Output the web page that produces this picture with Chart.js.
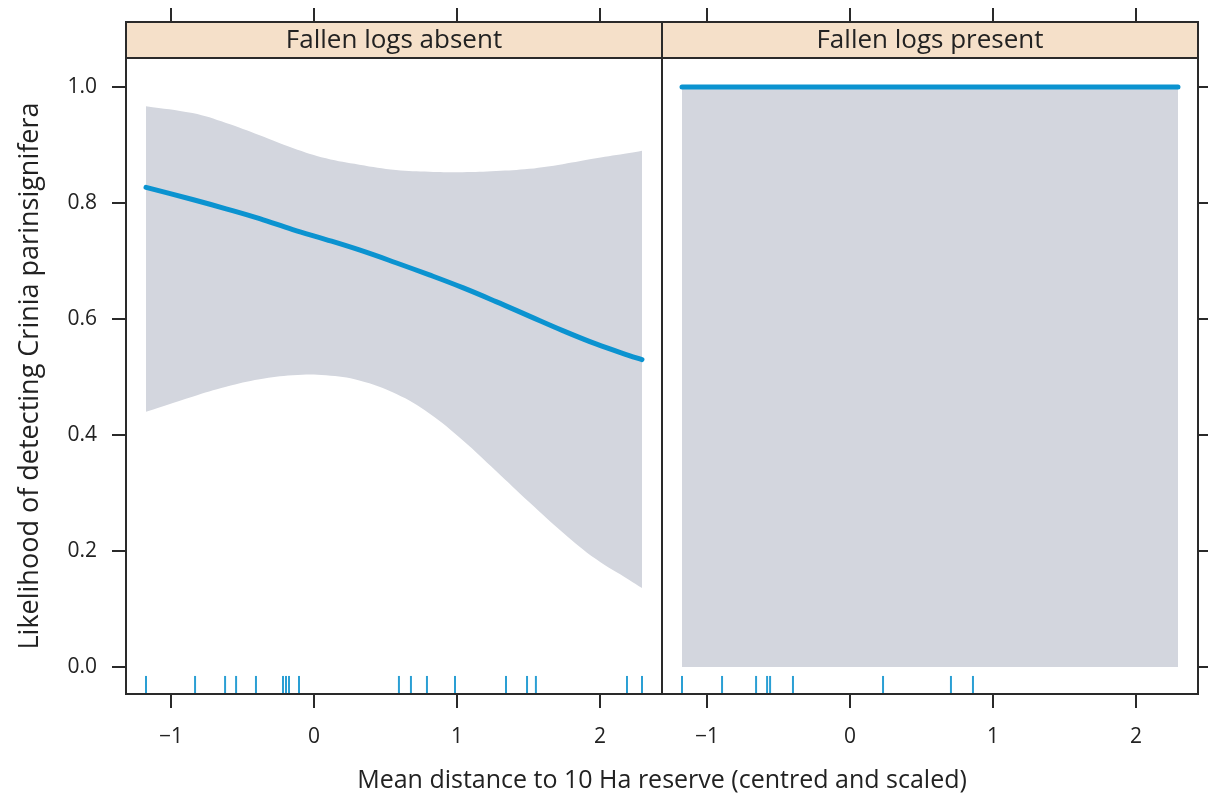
<!DOCTYPE html>
<html>
<head>
<meta charset="utf-8">
<script src="https://cdn.jsdelivr.net/npm/chart.js@4.4.1/dist/chart.umd.min.js"></script>
<style>
  html, body { margin: 0; padding: 0; background: #fff; }
  #wrap { position: relative; width: 1208px; height: 796px; overflow: hidden; font-family: 'Open Sans', sans-serif; }
  #left  { position: absolute; left: 0; top: 0; }
  #right { position: absolute; left: 662px; top: 0; }
  #xtitle { position: absolute; left: 126px; width: 1072px; top: 763px; text-align: center;
            font-size: 25px; line-height: 30px; color: #222; }
</style>
</head>
<body>
<div id="wrap">
  <canvas id="left" width="662" height="796"></canvas>
  <canvas id="right" width="546" height="796"></canvas>
  <div id="xtitle">Mean distance to 10 Ha reserve (centred and scaled)</div>
</div>
<script>
// panels and ticks
const panelTitles = ['Fallen logs absent', 'Fallen logs present']
const xTicks = [-1, 0, 1, 2]
const yTicks = [0, 0.2, 0.4, 0.6, 0.8, 1.0]

// fallen logs absent: fitted curve with confidence band
const absentX     = [-1.175, -0.85, -0.615, -0.38, -0.149, 0.084, 0.317, 0.573, 0.807, 1.04, 1.273, 1.506, 1.74, 1.972, 2.205, 2.294]
const absentFit   = [0.827, 0.806, 0.790, 0.773, 0.754, 0.737, 0.719, 0.697, 0.676, 0.654, 0.630, 0.605, 0.580, 0.557, 0.537, 0.530]
const absentUpper = [0.967, 0.955, 0.938, 0.917, 0.895, 0.877, 0.866, 0.857, 0.854, 0.853, 0.855, 0.859, 0.867, 0.877, 0.886, 0.890]
const absentLower = [0.440, 0.466, 0.483, 0.496, 0.503, 0.503, 0.494, 0.471, 0.437, 0.391, 0.338, 0.284, 0.232, 0.186, 0.150, 0.136]
const absentRug   = [-1.175, -0.832, -0.622, -0.545, -0.406, -0.217, -0.196, -0.175, -0.105, 0.594, 0.678, 0.790, 0.986, 1.343, 1.490, 1.552, 2.189, 2.294]

// fallen logs present
const presentX     = [-1.175, 2.294]
const presentFit   = [1.0, 1.0]
const presentUpper = [1.0, 1.0]
const presentLower = [0.0, 0.0]
const presentRug   = [-1.175, -0.895, -0.657, -0.580, -0.559, -0.399, 0.231, 0.706, 0.860]

const RUG_Y = -0.031
const X_MIN = -1.315, X_MAX = 2.434
const Y_MIN = -0.0466, Y_MAX = 1.05

const FONT = "'Open Sans', sans-serif"
const BLUE = '#0b93d0'
const RUG = '#2a9fd4'
const BAND = '#d3d6de'
const STRIP = '#f5e0c9'
const INK = '#2a2a2a'
const TEXT = '#222'

const pts = (xs, ys) => xs.map((x, i) => ({ x, y: ys[i] }))
const minus = v => v < 0 ? '\u2212' + Math.abs(v) : String(v)

// strip header, top tick marks and panel frame
const stripPlugin = {
  id: 'strip',
  afterDraw(chart, args, opts) {
    const { ctx, chartArea: a, scales: { x } } = chart
    const top = 22
    ctx.save()
    ctx.fillStyle = STRIP
    ctx.fillRect(a.left, top, a.right - a.left, a.top - top)
    ctx.fillStyle = TEXT
    ctx.font = `26px ${FONT}`
    ctx.textAlign = 'center'
    ctx.textBaseline = 'middle'
    ctx.fillText(opts.title, (a.left + a.right) / 2, (top + a.top) / 2 + 1)

    ctx.strokeStyle = INK
    ctx.lineWidth = 2
    xTicks.forEach(v => {
      const px = Math.round(x.getPixelForValue(v))
      ctx.beginPath(); ctx.moveTo(px, top - 14); ctx.lineTo(px, top); ctx.stroke()
    })
    ctx.strokeRect(a.left, top, a.right - a.left, a.bottom - top)
    ctx.beginPath(); ctx.moveTo(a.left, a.top); ctx.lineTo(a.right, a.top); ctx.stroke()
    ctx.restore()
  }
}

function makeDatasets(xs, fit, upper, lower, rug) {
  return [
    { data: pts(xs, fit), borderColor: BLUE, borderWidth: 5, borderCapStyle: 'round',
      pointRadius: 0, fill: false, tension: 0.4 },
    { data: pts(xs, upper), borderColor: 'transparent', borderWidth: 0, backgroundColor: BAND,
      pointRadius: 0, fill: '+1', tension: 0.4 },
    { data: pts(xs, lower), borderColor: 'transparent', borderWidth: 0,
      pointRadius: 0, fill: false, tension: 0.4 },
    { data: rug.map(x => ({ x, y: RUG_Y })), showLine: false, pointStyle: 'line', pointRotation: 90,
      pointRadius: 9, pointBorderColor: RUG, pointBorderWidth: 2, pointBackgroundColor: RUG }
  ]
}

const tickGrid = { drawOnChartArea: false, drawTicks: true, tickLength: 14, color: INK, lineWidth: 2 }

function xScale() {
  return {
    type: 'linear', position: 'bottom', min: X_MIN, max: X_MAX,
    afterBuildTicks: s => { s.ticks = xTicks.map(v => ({ value: v })) },
    afterFit: s => { s.height = 102; s.paddingLeft = 0; s.paddingRight = 0 },
    border: { display: false },
    grid: tickGrid,
    ticks: { padding: 16, maxRotation: 0, autoSkip: false, color: TEXT,
             font: { family: FONT, size: 21 }, callback: v => minus(v) }
  }
}

function makeChart(id, title, datasets, yPos) {
  const left = yPos === 'left'
  return new Chart(document.getElementById(id), {
    type: 'line',
    data: { datasets },
    options: {
      responsive: false,
      animation: false,
      events: [],
      layout: { autoPadding: false, padding: { top: 58, left: 0, right: 0, bottom: 0 } },
      plugins: { legend: { display: false }, tooltip: { enabled: false }, strip: { title } },
      scales: {
        x: xScale(),
        y: {
          type: 'linear', position: yPos, min: Y_MIN, max: Y_MAX,
          afterBuildTicks: s => { s.ticks = yTicks.map(v => ({ value: v })) },
          afterFit: s => { s.width = left ? 126 : 10; s.paddingTop = 0; s.paddingBottom = 0 },
          border: { display: false },
          grid: tickGrid,
          ticks: { display: left, padding: 15, color: TEXT, font: { family: FONT, size: 21 },
                   callback: v => v.toFixed(1) },
          title: { display: left, text: 'Likelihood of detecting Crinia parinsignifera', color: TEXT,
                   font: { family: FONT, size: 27 }, padding: { top: 14, bottom: 0 } }
        }
      }
    },
    plugins: [stripPlugin]
  })
}

makeChart('left', panelTitles[0], makeDatasets(absentX, absentFit, absentUpper, absentLower, absentRug), 'left')
makeChart('right', panelTitles[1], makeDatasets(presentX, presentFit, presentUpper, presentLower, presentRug), 'right')
</script>
</body>
</html>
